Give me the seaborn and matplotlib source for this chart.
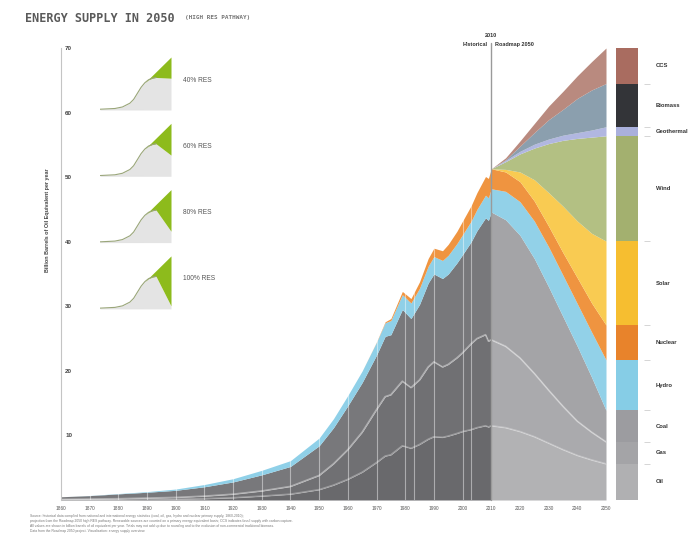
import numpy as np
import matplotlib
matplotlib.use("Agg")
import matplotlib.pyplot as plt
import seaborn as sns

# ---- historical record, billion barrels of oil equivalent per year ----
hist_years = [1860, 1870, 1880, 1890, 1900, 1910, 1920, 1930, 1940, 1950,
              1955, 1960, 1965, 1970, 1973, 1975, 1979, 1982, 1985, 1988,
              1990, 1993, 1995, 1998, 2000, 2003, 2005, 2008, 2009, 2010]
hist_oil = [0.02, 0.03, 0.05, 0.08, 0.12, 0.2, 0.35, 0.6, 0.9, 1.6,
            2.3, 3.2, 4.3, 5.8, 6.8, 7.0, 8.4, 8.0, 8.6, 9.4,
            9.8, 9.7, 9.9, 10.3, 10.6, 10.9, 11.2, 11.5, 11.3, 11.5]
hist_gas = [0.08, 0.12, 0.15, 0.22, 0.28, 0.4, 0.55, 0.8, 1.2, 2.2,
            3.3, 4.6, 6.2, 8.2, 9.2, 9.3, 10.0, 9.4, 10.0, 11.2,
            11.6, 10.9, 11.1, 11.7, 12.2, 13.3, 13.8, 14.1, 13.3, 13.3]
hist_coal = [0.4, 0.53, 0.75, 0.9, 1.1, 1.45, 1.9, 2.5, 3.1, 4.6,
             5.6, 6.8, 7.7, 8.45, 9.35, 9.3, 11.1, 10.7, 11.7, 13.0,
             13.6, 13.7, 14.0, 14.7, 15.2, 15.8, 16.7, 18.1, 18.7, 19.8]
hist_hydro = [0.0, 0.02, 0.05, 0.1, 0.2, 0.35, 0.5, 0.7, 0.9, 1.2,
              1.4, 1.6, 1.8, 2.0, 2.1, 2.2, 2.3, 2.4, 2.5, 2.6,
              2.7, 2.8, 2.9, 3.0, 3.1, 3.2, 3.3, 3.5, 3.5, 3.6]
hist_nuclear = [0, 0, 0, 0, 0, 0, 0, 0, 0, 0,
                0, 0, 0, 0.05, 0.15, 0.3, 0.5, 0.7, 1.0, 1.2,
                1.3, 1.5, 1.7, 1.9, 2.1, 2.4, 2.6, 2.9, 3.0, 3.1]

# ---- Roadmap 2050, high RES pathway ----
proj_years = [2010, 2015, 2020, 2025, 2030, 2035, 2040, 2045, 2050]
proj_oil = [11.5, 11.2, 10.6, 9.8, 8.8, 7.8, 6.9, 6.2, 5.6]
proj_gas = [13.3, 12.6, 11.4, 9.8, 8.2, 6.7, 5.3, 4.3, 3.4]
proj_coal = [19.8, 19.6, 19.0, 17.8, 16.0, 13.9, 11.6, 8.5, 4.9]
proj_hydro = [3.6, 4.4, 5.2, 5.8, 6.2, 6.4, 6.6, 7.0, 7.8]
proj_nuclear = [3.1, 3.0, 3.1, 3.1, 3.2, 3.5, 4.0, 4.5, 5.4]
proj_solar = [0.0, 0.4, 1.5, 3.3, 5.2, 7.2, 8.8, 10.8, 13.0]
proj_wind = [0.0, 1.2, 2.8, 4.9, 7.6, 10.2, 12.8, 14.9, 16.3]
proj_geothermal = [0.0, 0.2, 0.4, 0.6, 0.7, 0.8, 0.9, 1.1, 1.4]
proj_biomass = [0.0, 0.1, 0.8, 1.8, 3.0, 4.0, 5.3, 6.2, 6.7]
proj_ccs = [0.0, 0.3, 0.8, 1.4, 2.1, 2.8, 3.5, 4.4, 5.5]

sources = ["Oil", "Gas", "Coal", "Hydro", "Nuclear", "Solar",
           "Wind", "Geothermal", "Biomass", "CCS"]

# ---- small scenario thumbnails ----
inset_labels = ["40% RES", "60% RES", "80% RES", "100% RES"]
inset_total_years = [1860, 1900, 1920, 1940, 1950, 1960, 1970, 1980, 2050]
inset_total = [1, 2, 4, 9, 14, 22, 30, 36, 70]
inset_fossil_years = [1860, 1900, 1920, 1940, 1950, 1960, 1970, 1980, 1990, 2000, 2010, 2050]
inset_fossil_hist = [1, 2, 4, 9, 14, 22, 30, 36, 40, 42, 43]
inset_fossil_2050 = [42, 28, 15, 4]

# colours
hist_colors = ["#69696c", "#707073", "#78787b", "#8fd0e8", "#ef9440"]
proj_colors = ["#b2b2b4", "#aaaaad", "#a4a4a7", "#92d1e8", "#ef9440",
               "#f9cb52", "#b3c083", "#b1b7e0", "#8b9fae", "#b98a7f"]
bar_colors = ["#b0b0b2", "#a4a4a7", "#9c9ca0", "#86cde6", "#e8832b",
              "#f6be30", "#a3b06f", "#aab0dc", "#333438", "#a96c60"]

sns.set_theme(style="white")
plt.rcParams["font.family"] = ["Liberation Sans", "DejaVu Sans"]

W, H = 696, 533
fig = plt.figure(figsize=(W / 100, H / 100), dpi=100)


def box(x0, y0, x1, y1):
    return [x0 / W, 1 - y1 / H, (x1 - x0) / W, (y1 - y0) / H]


ax = fig.add_axes(box(61, 48, 606, 500))
ax.set_xlim(1860, 2050)
ax.set_ylim(0, 70)

hist_stack = [hist_oil, hist_gas, hist_coal, hist_hydro, hist_nuclear]
proj_stack = [proj_oil, proj_gas, proj_coal, proj_hydro, proj_nuclear, proj_solar,
              proj_wind, proj_geothermal, proj_biomass, proj_ccs]
ax.stackplot(hist_years, *hist_stack, colors=hist_colors, linewidth=0, zorder=1)
ax.stackplot(proj_years, *proj_stack, colors=proj_colors, linewidth=0, zorder=1)

# light seams between the fossil layers
all_years = hist_years + proj_years[1:]
oil_top = np.array(hist_oil + proj_oil[1:])
gas_top = oil_top + np.array(hist_gas + proj_gas[1:])
sns.lineplot(x=all_years, y=oil_top, color="white", alpha=0.3, lw=1.2, ax=ax, zorder=2)
sns.lineplot(x=all_years, y=gas_top, color="white", alpha=0.4, lw=1.2, ax=ax, zorder=2)

# pale vertical stripes over the historical record
for yr in list(range(1870, 2010, 10)) + [1983, 2003]:
    ax.axvline(yr, color="white", alpha=0.45, lw=0.8, zorder=3)

ax.axvline(2010, ymin=0, ymax=1.01, color="#9a9a9a", lw=1, clip_on=False, zorder=4)
ax.text(2010, 71.6, "2010", ha="center", va="bottom", fontsize=4, weight="bold", color="#333")
ax.text(2008.6, 70.2, "Historical", ha="right", va="bottom", fontsize=4, weight="bold", color="#333")
ax.text(2011.4, 70.2, "Roadmap 2050", ha="left", va="bottom", fontsize=4, weight="bold", color="#333")

sns.despine(ax=ax, bottom=True)
ax.spines["left"].set_color("#c4c4c4")
ax.spines["left"].set_linewidth(0.8)
ax.set_yticks(range(10, 80, 10))
ax.set_yticks(range(5, 70, 10), minor=True)
ax.tick_params(axis="y", which="major", direction="in", length=0, pad=-3,
               labelsize=4.5, labelcolor="#444")
ax.tick_params(axis="y", which="minor", direction="in", length=2, width=0.5, color="#bbb")
for lab in ax.get_yticklabels():
    lab.set_horizontalalignment("left")
    lab.set_fontweight("bold")
ax.set_xticks(range(1860, 2051, 10))
ax.tick_params(axis="x", length=0, pad=4, labelsize=3.4, labelcolor="#555")
ax.grid(False)

# ---- 2050 composition bar ----
bx = fig.add_axes(box(616, 48, 638, 500))
bx.set_xlim(-0.5, 0.5)
bx.set_ylim(0, 70)
bx.axis("off")
bar_vals = [s[-1] for s in proj_stack]
bottoms = np.concatenate([[0], np.cumsum(bar_vals)[:-1]])
bx.bar(0, bar_vals, bottom=bottoms, width=1, color=bar_colors, linewidth=0)
bx.hlines(np.cumsum(bar_vals)[:-1], 0.75, 1.05, color="#cfcfcf", lw=0.6, clip_on=False)
for name, b, v in zip(sources, bottoms, bar_vals):
    bx.text(1.3, b + v / 2, name, ha="left", va="center", fontsize=4.2,
            weight="bold", color="#333", clip_on=False)

# ---- scenario thumbnails ----
green_years = [y for y in inset_fossil_years if y >= 1980]
for i, (label, fend) in enumerate(zip(inset_labels, inset_fossil_2050)):
    base = 110 + i * 66.3
    ix = fig.add_axes(box(100, base - 53, 171, base))
    ix.set_xlim(1860, 2050)
    ix.set_ylim(0, 70)
    ix.axis("off")
    fossil = inset_fossil_hist + [fend]
    ix.fill_between(inset_fossil_years, 0, fossil, color="#e4e4e4", lw=0)
    top = np.interp(green_years, inset_total_years, inset_total)
    low = np.interp(green_years, inset_fossil_years, fossil)
    ix.fill_between(green_years, low, top, color="#8dbb1c", lw=0)
    ix.plot(inset_fossil_years[:-1], inset_fossil_hist, color="#9aa67a", lw=0.8)
    ix.axhline(0, xmax=0.6, color="#d2d2d2", lw=0.8)
    fig.text(183 / W, 1 - (base - 30) / H, label, fontsize=4.8, color="#555",
             ha="left", va="center")

# ---- titles and notes ----
fig.text(25 / W, 1 - 18 / H, "ENERGY SUPPLY IN 2050", family="DejaVu Sans Mono",
         weight="bold", fontsize=8.5, color="#5a5a5a", va="center", ha="left")
fig.text(185 / W, 1 - 18 / H, "(HIGH RES PATHWAY)", family="DejaVu Sans Mono",
         weight="bold", fontsize=4.3, color="#777", va="center", ha="left")
fig.text(48 / W, 1 - 220 / H, "Billion Barrels of Oil Equivalent per year", rotation=90,
         fontsize=3.9, weight="bold", color="#444", ha="center", va="center")

note = ("Source: historical data compiled from national and international energy statistics (coal, oil, gas, hydro and nuclear primary supply, 1860-2010);\n"
        "projection from the Roadmap 2050 high RES pathway. Renewable sources are counted on a primary energy equivalent basis; CCS indicates fossil supply with carbon capture.\n"
        "All values are shown in billion barrels of oil equivalent per year. Totals may not add up due to rounding and to the exclusion of non-commercial traditional biomass.\n"
        "Data from the Roadmap 2050 project. Visualisation: energy supply overview.")
fig.text(30 / W, 1 - 514 / H, note, fontsize=2.4, color="#777", ha="left", va="top",
         linespacing=1.35)

fig.savefig("out.png", dpi=100)
